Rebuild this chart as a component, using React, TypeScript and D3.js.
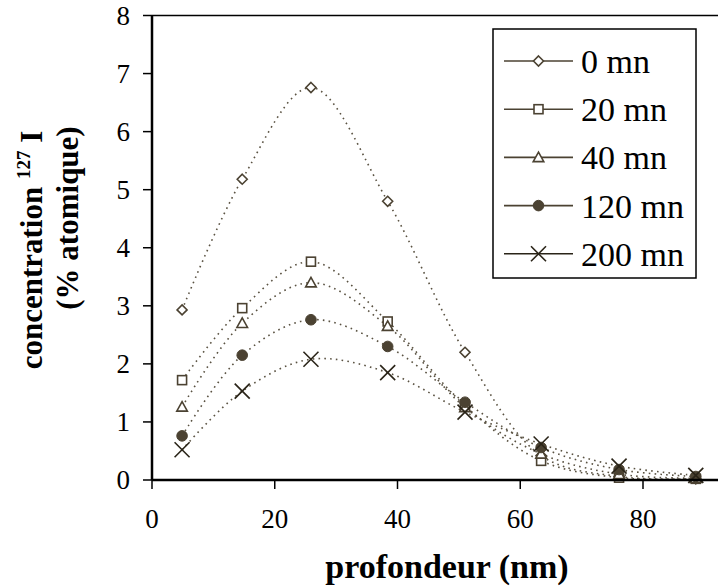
import React from "react";
import * as d3 from "d3";

const depths = [4.9, 14.7, 25.9, 38.4, 51, 63.4, 76.1, 88.6];
const s0 = [2.93, 5.18, 6.76, 4.8, 2.2, 0.42, 0.06, 0.02];
const s20 = [1.72, 2.96, 3.76, 2.73, 1.28, 0.33, 0.04, 0.02];
const s40 = [1.26, 2.7, 3.4, 2.65, 1.25, 0.45, 0.1, 0.03];
const s120 = [0.76, 2.15, 2.76, 2.3, 1.34, 0.56, 0.18, 0.06];
const s200 = [0.52, 1.53, 2.08, 1.85, 1.17, 0.62, 0.24, 0.08];
const seriesNames = ["0 mn", "20 mn", "40 mn", "120 mn", "200 mn"];
const seriesValues = [s0, s20, s40, s120, s200];
const markerKinds = ["diamond", "square", "triangle", "circle", "cross"];
const xTicks = [0, 20, 40, 60, 80];
const yTicks = [0, 1, 2, 3, 4, 5, 6, 7, 8];

const W = 718;
const H = 587;
const COL = "#4b4232";
const FONT = "'Liberation Serif', 'Times New Roman', serif";

function Marker({ kind, x, y }: { kind: string; x: number; y: number }) {
  const sw = 1.6;
  if (kind === "diamond") {
    const r = 5;
    return (
      <path
        d={`M${x},${y - r}L${x + r},${y}L${x},${y + r}L${x - r},${y}Z`}
        fill="white"
        stroke={COL}
        strokeWidth={sw}
      />
    );
  }
  if (kind === "square") {
    const r = 4.5;
    return <rect x={x - r} y={y - r} width={2 * r} height={2 * r} fill="white" stroke={COL} strokeWidth={sw} />;
  }
  if (kind === "triangle") {
    const r = 5.3;
    return (
      <path
        d={`M${x},${y - r}L${x + r},${y + r * 0.8}L${x - r},${y + r * 0.8}Z`}
        fill="white"
        stroke={COL}
        strokeWidth={sw}
      />
    );
  }
  if (kind === "circle") {
    return <circle cx={x} cy={y} r={5.3} fill={COL} stroke={COL} strokeWidth={1} />;
  }
  const r = 7.5;
  return (
    <g stroke="#2a2418" strokeWidth={1.6}>
      <line x1={x - r} y1={y - r} x2={x + r} y2={y + r} />
      <line x1={x - r} y1={y + r} x2={x + r} y2={y - r} />
    </g>
  );
}

export default function App() {
  const x = d3.scaleLinear().domain([0, 92]).range([152, 152 + 92 * 6.1375]);
  const y = d3.scaleLinear().domain([0, 8]).range([480, 15.5]);
  const line = d3
    .line<number>()
    .x((_, i) => x(depths[i]))
    .y((d) => y(d))
    .curve(d3.curveCatmullRom.alpha(0.5));

  const legX0 = 504;
  const legX1 = 573;
  const legY = (i: number) => 61 + i * 48.2;

  return (
    <svg
      width={W}
      height={H}
      style={{ position: "absolute", left: 0, top: 0, background: "white" }}
      fontFamily={FONT}
    >
      <rect width={W} height={H} fill="white" />
      {seriesValues.map((vals, si) => (
        <path
          key={"l" + si}
          d={line(vals) || ""}
          fill="none"
          stroke="#5a5242"
          strokeWidth={1.6}
          strokeDasharray="1.6,4.2"
        />
      ))}
      {seriesValues.map((vals, si) =>
        vals.map((v, i) => <Marker key={si + "-" + i} kind={markerKinds[si]} x={x(depths[i])} y={y(v)} />)
      )}
      <line x1={152} y1={15.5} x2={W} y2={15.5} stroke="black" strokeWidth={1.5} />
      <line x1={152} y1={15.5} x2={152} y2={480} stroke="black" strokeWidth={2.5} />
      <line x1={152} y1={480} x2={W} y2={480} stroke="black" strokeWidth={2.5} />
      {yTicks.map((t) => (
        <g key={"yt" + t}>
          <line x1={143} x2={152} y1={y(t)} y2={y(t)} stroke="black" strokeWidth={1.5} />
          <text x={130} y={y(t)} dy="0.34em" textAnchor="end" fontSize={27}>
            {t}
          </text>
        </g>
      ))}
      {xTicks.map((t) => (
        <g key={"xt" + t}>
          <line x1={x(t)} x2={x(t)} y1={480} y2={489} stroke="black" strokeWidth={1.5} />
          <text x={x(t)} y={528} textAnchor="middle" fontSize={27}>
            {t}
          </text>
        </g>
      ))}
      <text x={447} y={578} textAnchor="middle" fontSize={34} fontWeight="bold">
        profondeur (nm)
      </text>
      <g transform="translate(42,250) rotate(-90)">
        <text x={0} y={0} textAnchor="middle" fontSize={31} fontWeight="bold">
          concentration <tspan fontSize={19} dy={-12}>127</tspan>
          <tspan dy={12}> I</tspan>
        </text>
      </g>
      <g transform="translate(78,218) rotate(-90)">
        <text x={0} y={0} textAnchor="middle" fontSize={31} fontWeight="bold">
          (% atomique)
        </text>
      </g>
      <rect x={493} y={29} width={203} height={249} fill="white" stroke="black" strokeWidth={1.5} />
      {seriesNames.map((name, i) => (
        <g key={"lg" + i}>
          <line
            x1={legX0}
            x2={legX1}
            y1={legY(i)}
            y2={legY(i)}
            stroke={i === 4 ? "#2a2418" : COL}
            strokeWidth={1.6}
          />
          <Marker kind={markerKinds[i]} x={(legX0 + legX1) / 2} y={legY(i)} />
          <text x={581} y={legY(i)} dy="0.35em" fontSize={34}>
            {name}
          </text>
        </g>
      ))}
    </svg>
  );
}
